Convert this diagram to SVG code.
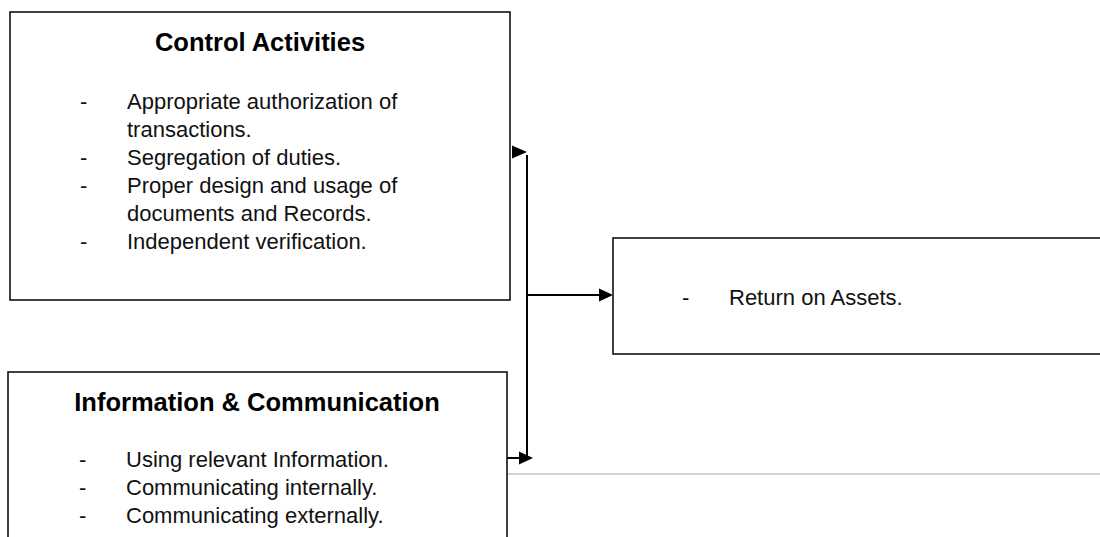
<svg xmlns="http://www.w3.org/2000/svg" width="1100" height="537" viewBox="0 0 1100 537">
<style>
.box{fill:#fff;stroke:#000;stroke-width:1.5}
.t{font-family:"Liberation Sans",Arial,sans-serif;font-size:22px;fill:#111}
.h{font-family:"Liberation Sans",Arial,sans-serif;font-size:25.5px;font-weight:bold;fill:#000;text-anchor:middle}
.c{stroke:#000;stroke-width:2;fill:none}
.ah{fill:#000}
</style>
<rect width="1100" height="537" fill="#fff"/>
<line x1="507" y1="474" x2="1100" y2="474" stroke="#d4d4d4" stroke-width="2"/>
<g id="control-activities">
<rect class="box" x="10" y="12" width="500" height="288"/>
<text class="h" x="260" y="51">Control Activities</text>
<text class="t" x="80" y="109">-</text><text class="t" x="127" y="109">Appropriate authorization of</text>
<text class="t" x="127" y="137">transactions.</text>
<text class="t" x="80" y="165">-</text><text class="t" x="127" y="165">Segregation of duties.</text>
<text class="t" x="80" y="193">-</text><text class="t" x="127" y="193">Proper design and usage of</text>
<text class="t" x="127" y="221">documents and Records.</text>
<text class="t" x="80" y="249">-</text><text class="t" x="127" y="249">Independent verification.</text>
</g>
<g id="information-communication">
<rect class="box" x="8" y="372" width="499" height="180"/>
<text class="h" x="257" y="411">Information &amp; Communication</text>
<text class="t" x="79" y="467">-</text><text class="t" x="126" y="467">Using relevant Information.</text>
<text class="t" x="79" y="495">-</text><text class="t" x="126" y="495">Communicating internally.</text>
<text class="t" x="79" y="523">-</text><text class="t" x="126" y="523">Communicating externally.</text>
</g>
<g id="return-on-assets">
<rect class="box" x="613" y="238" width="500" height="116"/>
<text class="t" x="682" y="305">-</text><text class="t" x="729" y="305">Return on Assets.</text>
</g>
<g id="connectors">
<path class="c" d="M527,155 V458"/>
<path class="c" d="M527,295 H600"/>
<polygon class="ah" points="599,288.5 613,295 599,301.5"/>
<polygon class="ah" points="512,145.5 527,152 512,158.5"/>
<path class="c" d="M507,458 H520"/>
<polygon class="ah" points="519,451.5 533,458 519,464.5"/>
</g>
</svg>
